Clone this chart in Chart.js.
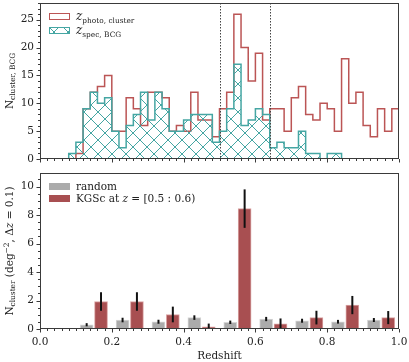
<!DOCTYPE html>
<html>
<head>
<meta charset="utf-8">
<script src="https://cdn.jsdelivr.net/npm/chart.js@4"></script>
<style>
  body { margin: 0; background: #fff; }
  #wrap { position: relative; width: 409px; height: 362px; font-family: "DejaVu Serif", serif; color: #222; overflow: hidden; }
  canvas { position: absolute; left: 0; }
  .txt { position: absolute; white-space: nowrap; font-size: 10.5px; line-height: 10.5px; }
  .txt sub, .txt sup { font-size: 7.4px; line-height: 0; }
  .txt sub { vertical-align: -2.5px; }
  .txt sup { vertical-align: 4px; }
  .rot { transform: translate(-50%, -50%) rotate(-90deg); }
  .mid { transform: translate(-50%, -50%); }
  .sw { position: absolute; width: 21px; height: 7px; box-sizing: border-box; }
  .zi { font-style: italic; font-size: 12px; }
</style>
</head>
<body>
<div id="wrap">
  <canvas id="top" width="409" height="165" style="top:0"></canvas>
  <canvas id="bottom" width="409" height="197" style="top:165px"></canvas>

  <div class="txt rot" style="left:8.5px; top:81px">N<sub>cluster, BCG</sub></div>
  <div class="txt rot" style="left:8.5px; top:251px">N<sub>cluster</sub> (deg<sup>−2</sup>, Δ<i>z</i> = 0.1)</div>
  <div class="txt mid" style="left:219.5px; top:355px">Redshift</div>

  <div class="sw" style="left:49px; top:13px; border:1.5px solid #bb5555; background:#fff"></div>
  <div class="txt" style="left:76px; top:11px"><span class="zi">z</span><sub>photo, cluster</sub></div>
  <div class="sw" id="hatchSwatch" style="left:49px; top:26.5px; border:1.5px solid #45a6a3"></div>
  <div class="txt" style="left:76px; top:24.5px"><span class="zi">z</span><sub>spec, BCG</sub></div>

  <div class="sw" style="left:49px; top:183px; height:6.5px; background:#ababab"></div>
  <div class="txt" style="left:76px; top:181px">random</div>
  <div class="sw" style="left:49px; top:195px; height:6.5px; background:#a84f51"></div>
  <div class="txt" style="left:76px; top:193px">KGSc at <i>z</i> = [0.5 : 0.6)</div>
</div>

<script>
// top panel: histograms, bins of 0.02 in redshift
const binWidth = 0.02;
const photoCounts = [0, 0, 0, 0, 0, 1, 9, 12, 13, 15,
                     5, 5, 11, 9, 6, 12, 12, 11, 5, 6,
                     5, 12, 7, 7, 4, 9, 12, 26, 20, 14,
                     19, 7, 9, 9, 5, 11, 13, 8, 7, 10,
                     9, 5, 18, 10, 12, 6, 4, 9, 5, 9];
const specCounts = [0, 0, 0, 0, 1, 3, 9, 12, 10, 11,
                    5, 2, 6, 8, 12, 7, 12, 9, 5, 5,
                    7, 8, 8, 8, 3, 5, 9, 17, 6, 7,
                    9, 8, 2, 3, 2, 2, 5, 1, 1, 0,
                    1, 1, 0, 0, 0, 0, 0, 0, 0, 0];
const zWindow = [0.5, 0.64];

// bottom panel: cluster density per dz = 0.1 bin
const zLow = [0.1, 0.2, 0.3, 0.4, 0.5, 0.6, 0.7, 0.8, 0.9];
const randomVals = [0.30, 0.63, 0.51, 0.80, 0.47, 0.70, 0.58, 0.51, 0.63];
const randomErr = [0.11, 0.16, 0.14, 0.16, 0.12, 0.15, 0.14, 0.13, 0.14];
const kgscVals = [1.93, 1.93, 1.02, 0.16, 8.45, 0.37, 0.80, 1.68, 0.80];
const kgscErr = [0.65, 0.65, 0.55, 0.22, 1.35, 0.37, 0.48, 0.64, 0.46];

const RED = '#bb5555';
const TEAL = '#45a6a3';
const FRAME = '#3a3a3a';

Chart.defaults.font.family = '"DejaVu Serif", serif';
Chart.defaults.font.size = 10.5;
Chart.defaults.color = '#222';

function hatch(size) {
  const c = document.createElement('canvas');
  c.width = size; c.height = size;
  const g = c.getContext('2d');
  g.strokeStyle = TEAL;
  g.lineWidth = 1;
  g.beginPath();
  g.moveTo(-1, -1); g.lineTo(size + 1, size + 1);
  g.moveTo(-1, size + 1); g.lineTo(size + 1, -1);
  g.stroke();
  return c;
}
const hatchTile = hatch(14);
document.getElementById('hatchSwatch').style.background =
  '#fff url(' + hatchTile.toDataURL() + ') -3px -3px';

function stepPoints(counts) {
  const pts = counts.map((c, i) => ({ x: i * binWidth, y: c }));
  pts.push({ x: counts.length * binWidth, y: counts[counts.length - 1] });
  return pts;
}

// keep the plot area exactly where the layout puts it
function fixSize(w, h) {
  return s => {
    if (w) s.width = w;
    if (h) s.height = h;
    s.paddingTop = 0; s.paddingBottom = 0;
    s.paddingLeft = 0; s.paddingRight = 0;
  };
}

// frame, outward ticks (major + minor), dotted lines, error bars
const decor = {
  id: 'decor',
  afterDatasetsDraw(chart, args, o) {
    const { ctx, chartArea: a, scales: { x, y } } = chart;
    ctx.save();
    if (o.vlines) {
      ctx.strokeStyle = '#444';
      ctx.lineWidth = 1;
      ctx.setLineDash([1.5, 1.5]);
      o.vlines.forEach(v => {
        const px = Math.round(x.getPixelForValue(v)) + 0.5;
        ctx.beginPath(); ctx.moveTo(px, a.top); ctx.lineTo(px, a.bottom); ctx.stroke();
      });
      ctx.setLineDash([]);
    }
    if (o.errors) {
      ctx.strokeStyle = '#111';
      ctx.lineWidth = 2;
      o.errors.forEach((errs, di) => {
        const meta = chart.getDatasetMeta(di);
        const vals = chart.data.datasets[di].data;
        meta.data.forEach((bar, i) => {
          const v = vals[i].y;
          ctx.beginPath();
          ctx.moveTo(bar.x, y.getPixelForValue(v + errs[i]));
          ctx.lineTo(bar.x, y.getPixelForValue(Math.max(0, v - errs[i])));
          ctx.stroke();
        });
      });
    }
    ctx.strokeStyle = FRAME;
    ctx.lineWidth = 1;
    ctx.strokeRect(a.left + 0.5, a.top + 0.5, a.right - a.left - 1, a.bottom - a.top - 1);
    ctx.beginPath();
    for (let i = 0; i <= Math.round((x.max - x.min) / o.xMinor); i++) {
      const v = x.min + i * o.xMinor;
      const major = i % Math.round(o.xMajor / o.xMinor) === 0;
      const px = Math.round(x.getPixelForValue(v)) + 0.5;
      ctx.moveTo(px, a.bottom); ctx.lineTo(px, a.bottom + (major ? 3.5 : 2));
    }
    for (let i = 0; i * o.yMinor <= y.max; i++) {
      const v = i * o.yMinor;
      const major = i % Math.round(o.yMajor / o.yMinor) === 0;
      const py = Math.round(y.getPixelForValue(v)) + 0.5;
      ctx.moveTo(a.left, py); ctx.lineTo(a.left - (major ? 3.5 : 2), py);
    }
    ctx.stroke();
    ctx.restore();
  }
};

new Chart('top', {
  type: 'line',
  data: {
    datasets: [
      {
        data: stepPoints(specCounts),
        stepped: true,
        borderColor: TEAL,
        borderWidth: 1.5,
        pointRadius: 0,
        fill: 'origin',
        backgroundColor: document.createElement('canvas').getContext('2d').createPattern(hatchTile, 'repeat')
      },
      {
        data: stepPoints(photoCounts),
        stepped: true,
        borderColor: RED,
        borderWidth: 1.5,
        pointRadius: 0,
        fill: false
      }
    ]
  },
  options: {
    responsive: false,
    animation: false,
    devicePixelRatio: 1,
    layout: { padding: { top: 3, right: 10, left: 0, bottom: 0 } },
    plugins: {
      legend: { display: false },
      tooltip: { enabled: false },
      decor: { vlines: zWindow, xMinor: 0.02, xMajor: 0.2, yMinor: 1, yMajor: 5 }
    },
    scales: {
      x: {
        type: 'linear', min: 0, max: 1,
        grid: { display: false }, border: { display: false },
        ticks: { display: false },
        afterFit: fixSize(0, 6)
      },
      y: {
        min: 0, max: 28,
        grid: { display: false, drawTicks: false }, border: { display: false },
        ticks: { stepSize: 5, includeBounds: false, padding: 6 },
        afterFit: fixSize(40, 0)
      }
    }
  },
  plugins: [decor]
});

new Chart('bottom', {
  type: 'bar',
  data: {
    datasets: [
      {
        data: zLow.map((lo, i) => ({ x: lo + 0.03, y: randomVals[i] })),
        backgroundColor: '#ababab',
        borderColor: '#d6d6d6',
        borderWidth: 1,
        grouped: false,
        barThickness: 13
      },
      {
        data: zLow.map((lo, i) => ({ x: lo + 0.07, y: kgscVals[i] })),
        backgroundColor: '#a84f51',
        borderColor: '#d9a3a3',
        borderWidth: 1,
        grouped: false,
        barThickness: 13
      }
    ]
  },
  options: {
    responsive: false,
    animation: false,
    devicePixelRatio: 1,
    layout: { padding: { top: 8, right: 10, left: 0, bottom: 0 } },
    plugins: {
      legend: { display: false },
      tooltip: { enabled: false },
      decor: { errors: [randomErr, kgscErr], xMinor: 0.02, xMajor: 0.2, yMinor: 0.5, yMajor: 2 }
    },
    scales: {
      x: {
        type: 'linear', min: 0, max: 1, offset: false,
        grid: { display: false, drawTicks: false }, border: { display: false },
        ticks: { stepSize: 0.2, padding: 7, maxRotation: 0, callback: v => v.toFixed(1) },
        afterFit: fixSize(0, 33)
      },
      y: {
        min: 0, max: 10.95,
        grid: { display: false, drawTicks: false }, border: { display: false },
        ticks: { stepSize: 2, includeBounds: false, padding: 6 },
        afterFit: fixSize(40, 0)
      }
    }
  },
  plugins: [decor]
});
</script>
</body>
</html>
